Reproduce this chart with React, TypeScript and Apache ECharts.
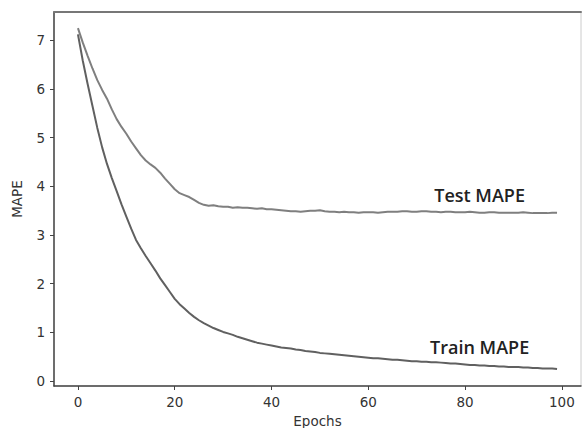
import React, { useEffect, useRef } from "react";
import * as echarts from "echarts";

const epochs: number[] = Array.from({ length: 100 }, (_, i) => i);

const testMape: number[] = [
  7.25, 6.95, 6.68, 6.42, 6.18, 5.98, 5.8, 5.58, 5.38, 5.22,
  5.08, 4.92, 4.78, 4.64, 4.53, 4.45, 4.38, 4.28, 4.16, 4.05,
  3.94, 3.86, 3.82, 3.78, 3.72, 3.66, 3.62, 3.6, 3.61, 3.59,
  3.58, 3.58, 3.56, 3.57, 3.56, 3.56, 3.55, 3.54, 3.55, 3.53,
  3.53, 3.52, 3.51, 3.5, 3.49, 3.49, 3.48, 3.49, 3.5, 3.5,
  3.51, 3.49, 3.48, 3.48, 3.47, 3.48, 3.47, 3.47, 3.46, 3.47,
  3.47, 3.47, 3.46, 3.47, 3.48, 3.48, 3.48, 3.49, 3.49, 3.48,
  3.48, 3.49, 3.49, 3.48, 3.48, 3.47, 3.48, 3.48, 3.47, 3.47,
  3.47, 3.48, 3.47, 3.46, 3.46, 3.47, 3.47, 3.46, 3.46, 3.46,
  3.46, 3.46, 3.47, 3.46, 3.45, 3.45, 3.45, 3.45, 3.46, 3.46,
];

const trainMape: number[] = [
  7.12, 6.58, 6.1, 5.65, 5.2, 4.8, 4.46, 4.17, 3.9, 3.63,
  3.38, 3.13, 2.9, 2.73, 2.57, 2.42, 2.27, 2.11, 1.97, 1.83,
  1.69, 1.58, 1.49, 1.4, 1.32, 1.25, 1.19, 1.14, 1.09, 1.05,
  1.01, 0.98, 0.95, 0.91, 0.88, 0.85, 0.82, 0.79, 0.77, 0.75,
  0.73, 0.71, 0.69, 0.68, 0.67, 0.65, 0.64, 0.62, 0.61, 0.6,
  0.58, 0.57, 0.56, 0.55, 0.54, 0.53, 0.52, 0.51, 0.5, 0.49,
  0.48, 0.47, 0.47, 0.46, 0.45, 0.44, 0.44, 0.43, 0.42, 0.41,
  0.41, 0.4, 0.4, 0.39, 0.39, 0.38, 0.37, 0.36, 0.36, 0.35,
  0.34, 0.33, 0.33, 0.32, 0.32, 0.31, 0.31, 0.3, 0.3, 0.29,
  0.29, 0.29, 0.28, 0.28, 0.27, 0.27, 0.26, 0.26, 0.26, 0.25,
];

const xTicks: number[] = [0, 20, 40, 60, 80, 100];
const yTicks: number[] = [0, 1, 2, 3, 4, 5, 6, 7];

const testLabel = { text: "Test MAPE", x: 83, y: 3.82 };
const trainLabel = { text: "Train MAPE", x: 83, y: 0.7 };

export default function App() {
  const ref = useRef<HTMLDivElement>(null);
  useEffect(() => {
    if (!ref.current) return;
    const chart = echarts.init(ref.current, undefined, { renderer: "svg" });
    const tickFont = { fontFamily: "DejaVu Sans", fontSize: 13.5, color: "#333" };
    const labelStyle = (t: string) => ({
      show: true,
      formatter: t,
      position: "inside",
      fontFamily: "Open Sans",
      fontWeight: 600,
      fontSize: 18,
      color: "#222",
    });
    chart.setOption({
      animation: false,
      backgroundColor: "#fff",
      grid: {
        left: 54,
        top: 12,
        right: 1,
        bottom: 42,
        containLabel: false,
        outerBoundsMode: "none",
        show: true,
        borderColor: "#ccc",
        borderWidth: 1,
      },
      xAxis: [
        {
          type: "value",
          min: -4.95,
          max: 103.95,
          name: "Epochs",
          nameLocation: "middle",
          nameGap: 26,
          nameTextStyle: { fontFamily: "DejaVu Sans", fontSize: 13.5, color: "#333" },
          axisLine: { show: true, onZero: false, lineStyle: { color: "#444", width: 1.5 } },
          axisTick: { show: true, length: 4, customValues: xTicks, lineStyle: { color: "#444" } },
          axisLabel: { ...tickFont, customValues: xTicks, margin: 9 },
          splitLine: { show: false },
        },
        {
          type: "value",
          position: "top",
          min: -4.95,
          max: 103.95,
          axisLine: { show: true, onZero: false, lineStyle: { color: "#777", width: 2 } },
          axisTick: { show: false },
          axisLabel: { show: false },
          splitLine: { show: false },
        },
      ],
      yAxis: {
        type: "value",
        min: -0.1,
        max: 7.58,
        name: "MAPE",
        nameLocation: "middle",
        nameGap: 30,
        nameTextStyle: { fontFamily: "DejaVu Sans", fontSize: 13.5, color: "#333" },
        axisLine: { show: true, onZero: false, lineStyle: { color: "#444", width: 1.5 } },
        axisTick: { show: true, length: 4, customValues: yTicks, lineStyle: { color: "#444" } },
        axisLabel: { ...tickFont, customValues: yTicks, margin: 9 },
        splitLine: { show: false },
      },
      series: [
        {
          type: "line",
          name: "Test MAPE",
          data: epochs.map((e, i) => [e, testMape[i]]),
          showSymbol: false,
          lineStyle: { color: "#7f7f7f", width: 2 },
          markPoint: {
            symbol: "circle",
            symbolSize: 0,
            data: [{ coord: [testLabel.x, testLabel.y], label: labelStyle(testLabel.text) }],
          },
        },
        {
          type: "line",
          name: "Train MAPE",
          data: epochs.map((e, i) => [e, trainMape[i]]),
          showSymbol: false,
          lineStyle: { color: "#606060", width: 2 },
          markPoint: {
            symbol: "circle",
            symbolSize: 0,
            data: [{ coord: [trainLabel.x, trainLabel.y], label: labelStyle(trainLabel.text) }],
          },
        },
      ],
    });
    return () => chart.dispose();
  }, []);
  return <div ref={ref} style={{ width: 582, height: 428, position: "absolute", left: 0, top: 0 }} />;
}
